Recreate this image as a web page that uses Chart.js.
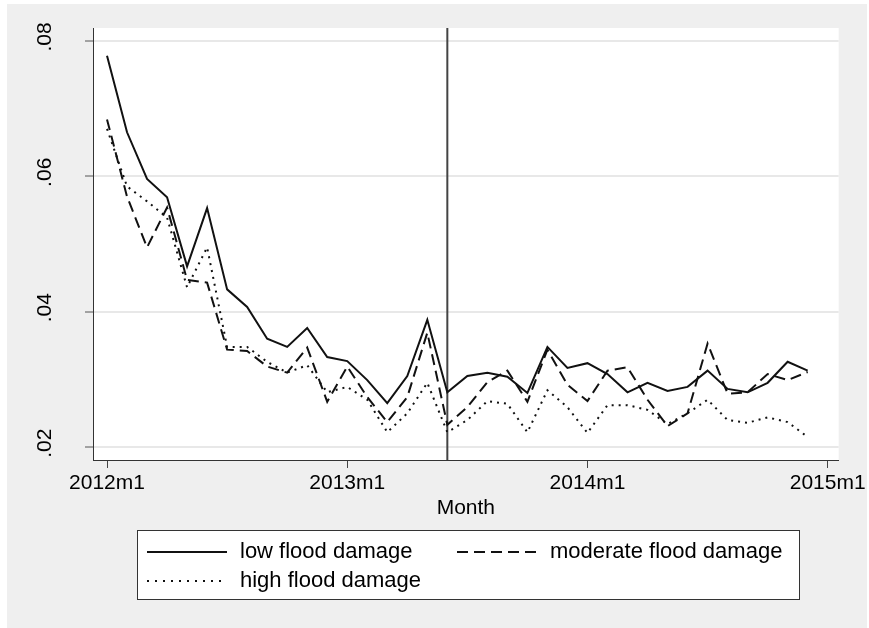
<!DOCTYPE html>
<html>
<head>
<meta charset="utf-8">
<script src="https://cdn.jsdelivr.net/npm/chart.js@4.4.0/dist/chart.umd.min.js"></script>
<style>
  html, body { margin: 0; padding: 0; background: #fff; overflow: hidden; }
</style>
</head>
<body>
<canvas id="chart" width="869" height="628"></canvas>
<script>
// monthly rates, 2012m1 .. 2014m12 (36 months)
const low = [0.0778, 0.0665, 0.0596, 0.0569, 0.0467, 0.0553, 0.0433, 0.0407, 0.0360, 0.0348, 0.0376, 0.0333,
             0.0327, 0.0299, 0.0265, 0.0305, 0.0388, 0.0281, 0.0305, 0.0310, 0.0304, 0.0280, 0.0348, 0.0317,
             0.0324, 0.0308, 0.0281, 0.0295, 0.0283, 0.0289, 0.0313, 0.0286, 0.0281, 0.0295, 0.0326, 0.0313];
const moderate = [0.0684, 0.0570, 0.0495, 0.0554, 0.0447, 0.0443, 0.0344, 0.0342, 0.0319, 0.0310, 0.0347, 0.0267,
                  0.0319, 0.0274, 0.0237, 0.0274, 0.0369, 0.0233, 0.0259, 0.0296, 0.0313, 0.0267, 0.0344, 0.0292,
                  0.0268, 0.0313, 0.0318, 0.0270, 0.0231, 0.0250, 0.0353, 0.0279, 0.0281, 0.0308, 0.0299, 0.0311];
const high = [0.0670, 0.0585, 0.0563, 0.0539, 0.0436, 0.0495, 0.0348, 0.0348, 0.0326, 0.0310, 0.0321, 0.0281,
              0.0289, 0.0270, 0.0222, 0.0250, 0.0295, 0.0222, 0.0240, 0.0268, 0.0264, 0.0222, 0.0284, 0.0259,
              0.0221, 0.0262, 0.0262, 0.0255, 0.0234, 0.0250, 0.0270, 0.0240, 0.0236, 0.0244, 0.0237, 0.0215];

const xTickValues = [0, 12, 24, 36];
const xTickLabels = ['2012m1', '2013m1', '2014m1', '2015m1'];
const yTickValues = [0.02, 0.04, 0.06, 0.08];
const yTickLabels = ['.02', '.04', '.06', '.08'];
const eventMonth = 17;   // 2013m6
const yMin = 0.0181, yMax = 0.0819;

const FONT = '"Liberation Sans", Arial, Helvetica, sans-serif';
const toPts = arr => arr.map((v, i) => ({ x: i, y: v }));

const stataLook = {
    id: 'stataLook',
    beforeDraw(chart) {
        const { ctx, chartArea: a } = chart;
        ctx.save();
        ctx.fillStyle = '#fff';
        ctx.fillRect(0, 0, chart.width, chart.height);
        ctx.fillStyle = '#efefef';
        ctx.fillRect(7, 4, 860, 624);
        ctx.fillStyle = '#fff';
        ctx.fillRect(a.left, a.top, a.right - a.left, a.bottom - a.top);
        ctx.restore();
    },
    afterDraw(chart) {
        const { ctx, scales: { y } } = chart;
        ctx.save();
        // rotated y tick labels
        ctx.font = '21px ' + FONT;
        ctx.fillStyle = '#000';
        ctx.textAlign = 'center';
        ctx.textBaseline = 'alphabetic';
        yTickValues.forEach((v, i) => {
            ctx.save();
            ctx.translate(51, y.getPixelForValue(v) - 4);
            ctx.rotate(-Math.PI / 2);
            ctx.fillText(yTickLabels[i], 0, 0);
            ctx.restore();
        });

        // legend box
        ctx.fillStyle = '#fff';
        ctx.fillRect(137, 530, 662, 69);
        ctx.strokeStyle = '#333';
        ctx.lineWidth = 1;
        ctx.strokeRect(137.5, 530.5, 662, 69);

        const slots = [[147, 552], [457, 552], [147, 581]];
        chart.data.datasets.filter(d => !d.isEvent).forEach((ds, i) => {
            const [lx, ly] = slots[i];
            ctx.beginPath();
            ctx.setLineDash(ds.legendDash || ds.borderDash || []);
            ctx.strokeStyle = ds.borderColor;
            ctx.lineWidth = 2;
            ctx.moveTo(lx, ly);
            ctx.lineTo(lx + 80, ly);
            ctx.stroke();
            ctx.setLineDash([]);
            ctx.font = '22px ' + FONT;
            ctx.fillStyle = '#000';
            ctx.textAlign = 'left';
            ctx.textBaseline = 'middle';
            ctx.fillText(ds.label, lx + 93, ly);
        });
        ctx.restore();
    }
};

new Chart(document.getElementById('chart'), {
    type: 'line',
    plugins: [stataLook],
    data: {
        datasets: [
            {
                label: 'low flood damage',
                data: toPts(low),
                borderColor: '#111',
                borderWidth: 2,
                pointRadius: 0,
                tension: 0
            },
            {
                label: 'moderate flood damage',
                data: toPts(moderate),
                borderColor: '#111',
                borderWidth: 2,
                borderDash: [11, 6],
                pointRadius: 0,
                tension: 0
            },
            {
                label: 'high flood damage',
                data: toPts(high),
                borderColor: '#111',
                borderWidth: 2,
                borderDash: [2, 5],
                legendDash: [2, 6],
                pointRadius: 0,
                tension: 0
            },
            {
                label: 'event',
                isEvent: true,
                data: [{ x: eventMonth, y: yMin }, { x: eventMonth, y: yMax }],
                borderColor: '#444',
                borderWidth: 2,
                pointRadius: 0
            }
        ]
    },
    options: {
        responsive: false,
        animation: false,
        events: [],
        layout: { padding: { top: 28, right: 25, bottom: 100, left: 0 } },
        plugins: {
            legend: { display: false },
            tooltip: { enabled: false }
        },
        scales: {
            x: {
                type: 'linear',
                min: -0.7,
                max: 36.55,
                afterBuildTicks: s => { s.ticks = xTickValues.map(v => ({ value: v })); },
                afterFit: s => { s.height = 68; },
                ticks: {
                    callback: v => xTickLabels[xTickValues.indexOf(v)],
                    font: { family: FONT, size: 21 },
                    color: '#000',
                    padding: 3,
                    maxRotation: 0,
                    autoSkip: false
                },
                grid: { drawOnChartArea: false, drawTicks: true, tickLength: 8, tickColor: '#444', tickWidth: 1 },
                border: { color: '#333', width: 1 },
                title: {
                    display: true,
                    text: 'Month',
                    font: { family: FONT, size: 21 },
                    color: '#000',
                    padding: { top: 2, bottom: 7 }
                }
            },
            y: {
                type: 'linear',
                min: yMin,
                max: yMax,
                afterBuildTicks: s => { s.ticks = yTickValues.map(v => ({ value: v })); },
                afterFit: s => { s.width = 93; },
                ticks: { display: false },
                grid: { color: '#e8e8e8', lineWidth: 2, drawTicks: true, tickLength: 8, tickColor: '#555', tickWidth: 1 },
                border: { color: '#333', width: 1 }
            }
        }
    }
});
</script>
</body>
</html>
